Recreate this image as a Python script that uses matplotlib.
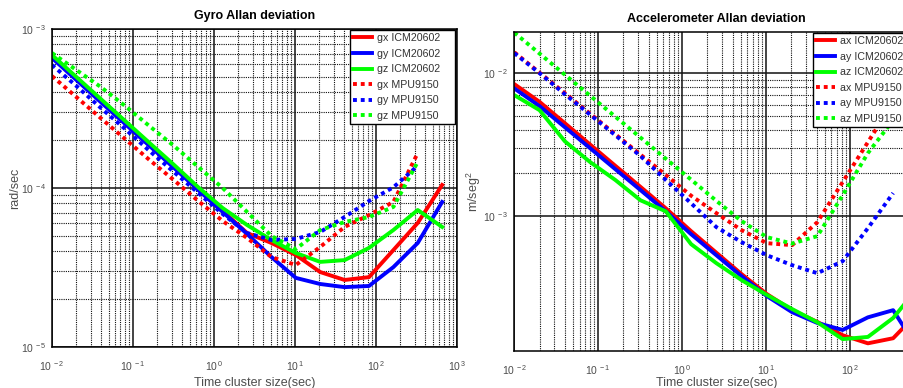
import math
import matplotlib.pyplot as plt
from matplotlib.ticker import FixedLocator, NullFormatter, FuncFormatter

plt.rcParams['font.family'] = ['Liberation Sans', 'DejaVu Sans']
plt.rcParams['mathtext.default'] = 'regular'

# cluster sizes (sec), doubling from 0.01
tau = [0.01, 0.02, 0.04, 0.08, 0.16, 0.32, 0.64, 1.28, 2.56, 5.12,
       10.24, 20.48, 40.96, 81.92, 163.84, 327.68, 655.36]
tau_mpu = tau[:16]

# gyro allan deviation (rad/sec)
gx_icm = [6.67e-4, 4.85e-4, 3.52e-4, 2.56e-4, 1.86e-4, 1.355e-4, 9.86e-5, 7.17e-5, 5.21e-5,
          4.51e-5, 3.79e-5, 2.96e-5, 2.64e-5, 2.75e-5, 4.07e-5, 6.03e-5, 1.045e-4]
gy_icm = [6.57e-4, 4.78e-4, 3.47e-4, 2.53e-4, 1.84e-4, 1.34e-4, 9.71e-5, 7.07e-5, 5.14e-5,
          3.68e-5, 2.72e-5, 2.49e-5, 2.38e-5, 2.42e-5, 3.18e-5, 4.51e-5, 8.17e-5]
gz_icm = [6.86e-4, 4.99e-4, 3.63e-4, 2.64e-4, 1.92e-4, 1.40e-4, 1.01e-4, 7.48e-5, 5.85e-5,
          4.71e-5, 3.90e-5, 3.43e-5, 3.52e-5, 4.20e-5, 5.44e-5, 7.27e-5, 5.69e-5]
gx_mpu = [5.06e-4, 3.73e-4, 2.75e-4, 2.03e-4, 1.50e-4, 1.12e-4, 8.28e-5, 6.20e-5,
          4.85e-5, 3.68e-5, 3.28e-5, 4.26e-5, 5.69e-5, 6.76e-5, 8.17e-5, 1.66e-4]
gy_mpu = [5.94e-4, 4.38e-4, 3.19e-4, 2.35e-4, 1.71e-4, 1.26e-4, 9.30e-5, 6.86e-5,
          5.21e-5, 4.71e-5, 4.78e-5, 5.29e-5, 6.57e-5, 8.28e-5, 1.01e-4, 1.38e-4]
gz_mpu = [7.06e-4, 5.52e-4, 4.32e-4, 3.28e-4, 2.45e-4, 1.84e-4, 1.355e-4, 1.00e-4,
          7.07e-5, 4.99e-5, 4.13e-5, 5.44e-5, 6.11e-5, 6.57e-5, 7.60e-5, 1.46e-4]

# accelerometer allan deviation (m/seg^2)
ax_icm = [8.38e-3, 6.30e-3, 4.47e-3, 3.17e-3, 2.25e-3, 1.60e-3, 1.134e-3, 7.85e-4, 5.55e-4,
          3.93e-4, 2.85e-4, 2.20e-4, 1.82e-4, 1.47e-4, 1.29e-4, 1.40e-4, 2.13e-4]
ay_icm = [7.82e-3, 5.88e-3, 4.19e-3, 2.99e-3, 2.13e-3, 1.52e-3, 1.08e-3, 7.48e-4, 5.33e-4,
          3.80e-4, 2.76e-4, 2.13e-4, 1.79e-4, 1.60e-4, 1.96e-4, 2.20e-4, 1.16e-4]
az_icm = [7.02e-3, 5.51e-3, 3.34e-3, 2.39e-3, 1.79e-3, 1.29e-3, 1.08e-3, 6.37e-4, 4.69e-4,
          3.57e-4, 2.81e-4, 2.24e-4, 1.81e-4, 1.38e-4, 1.43e-4, 1.94e-4, 3.19e-4]
ax_mpu = [1.40e-2, 1.008e-2, 7.25e-3, 5.21e-3, 3.74e-3, 2.69e-3, 1.94e-3, 1.39e-3,
          1.05e-3, 7.98e-4, 6.47e-4, 6.27e-4, 9.08e-4, 1.73e-3, 3.29e-3, 6.27e-3]
ay_mpu = [1.38e-2, 1.00e-2, 7.13e-3, 5.13e-3, 3.68e-3, 2.63e-3, 1.79e-3, 1.23e-3,
          8.38e-4, 6.58e-4, 5.33e-4, 4.54e-4, 3.99e-4, 4.84e-4, 8.24e-4, 1.45e-3]
az_mpu = [1.92e-2, 1.37e-2, 9.76e-3, 6.96e-3, 4.96e-3, 3.54e-3, 2.52e-3, 1.80e-3,
          1.28e-3, 9.23e-4, 7.13e-4, 6.43e-4, 7.25e-4, 1.40e-3, 2.76e-3, 4.69e-3]

gyro_labels = ['gx ICM20602', 'gy ICM20602', 'gz ICM20602', 'gx MPU9150', 'gy MPU9150', 'gz MPU9150']
acc_labels = ['ax ICM20602', 'ay ICM20602', 'az ICM20602', 'ax MPU9150', 'ay MPU9150', 'az MPU9150']

colors = ['#ff0000', '#0000ff', '#00ff00']
dots = (0, (1, 1))
grey = '#4d4d4d'

fig = plt.figure(figsize=(9.04, 3.88), dpi=100)
W, H = 904.0, 388.0

# matlab-ish "10 ^-2" tick labels
pow10 = FuncFormatter(lambda v, p: r'$10^{\,%d}$' % round(math.log10(v)))


def style_axes(ax):
    ax.set_xscale('log')
    ax.set_yscale('log')
    ax.grid(which='major', color='#111111', lw=1.1, ls='-')
    ax.grid(which='minor', color='#111111', lw=0.8, ls=dots)
    ax.set_axisbelow(True)
    ax.tick_params(which='both', direction='in', length=0, colors=grey, labelsize=7.5)
    ax.tick_params(axis='x', pad=9)
    ax.tick_params(axis='y', pad=4)
    ax.xaxis.set_major_formatter(pow10)
    ax.yaxis.set_major_formatter(pow10)
    ax.xaxis.set_minor_formatter(NullFormatter())
    ax.yaxis.set_minor_formatter(NullFormatter())
    for s in ax.spines.values():
        s.set_color('black')
        s.set_linewidth(1.1)


leg_kw = dict(borderaxespad=0, fontsize=7.7, frameon=True, fancybox=False, framealpha=1,
              edgecolor='black', labelspacing=0.52, handlelength=1.8, handletextpad=0.45,
              borderpad=0.3, labelcolor='#333333')

# ---- gyro ----
ax1 = fig.add_axes([52 / W, 1 - 347 / H, 405 / W, 318 / H])
style_axes(ax1)
for vals, c, lab in zip([gx_icm, gy_icm, gz_icm], colors, gyro_labels[:3]):
    ax1.plot(tau, vals, color=c, lw=2.8, label=lab)
for vals, c, lab in zip([gx_mpu, gy_mpu, gz_mpu], colors, gyro_labels[3:]):
    ax1.plot(tau_mpu, vals, color=c, lw=2.8, ls=dots, label=lab)
ax1.set_xlim(1e-2, 1e3)
ax1.set_ylim(1e-5, 1e-3)
ax1.xaxis.set_major_locator(FixedLocator([1e-2, 1e-1, 1e0, 1e1, 1e2, 1e3]))
ax1.set_xlabel('Time cluster size(sec)', fontsize=9, color=grey)
ax1.xaxis.set_label_coords(0.5, -0.094)
ax1.set_ylabel('rad/sec', fontsize=9, color=grey)
ax1.yaxis.set_label_coords(-0.076, 0.5)
ax1.set_title('Gyro Allan deviation', fontsize=9, fontweight='bold', pad=7)
ax1.legend(loc='upper left', bbox_to_anchor=(350 / W, (H - 124) / H, 105 / W, 94 / H),
           bbox_transform=fig.transFigure, mode='expand', **leg_kw)

# ---- accelerometer (axes runs past the right edge of the image) ----
ax2 = fig.add_axes([514.3 / W, 1 - 351 / H, 419.5 / W, 319 / H])
style_axes(ax2)
for vals, c, lab in zip([ax_icm, ay_icm, az_icm], colors, acc_labels[:3]):
    ax2.plot(tau, vals, color=c, lw=2.8, label=lab)
for vals, c, lab in zip([ax_mpu, ay_mpu, az_mpu], colors, acc_labels[3:]):
    ax2.plot(tau_mpu, vals, color=c, lw=2.8, ls=dots, label=lab)
ax2.set_xlim(1e-2, 1e3)
ax2.set_ylim(1.14e-4, 1.94e-2)
ax2.xaxis.set_major_locator(FixedLocator([1e-2, 1e-1, 1e0, 1e1, 1e2]))
ax2.xaxis.set_minor_locator(FixedLocator([m * 10.0 ** e for e in range(-2, 2) for m in range(2, 10)]))
ax2.yaxis.set_major_locator(FixedLocator([1e-3, 1e-2]))
ax2.yaxis.set_minor_locator(FixedLocator([m * 1e-3 for m in range(2, 10)]))
ax2.set_xlabel('Time cluster size(sec)', fontsize=9, color=grey)
ax2.xaxis.set_label_coords(0.4825, -0.082)
ax2.set_ylabel('m/seg$^2$', fontsize=9, color=grey)
ax2.yaxis.set_label_coords(-0.074, 0.5)
ax2.set_title('Accelerometer Allan deviation', fontsize=9, fontweight='bold', pad=7, x=0.4825)
ax2.legend(loc='upper left', bbox_to_anchor=(812.7 / W, 1 - 33 / H), bbox_transform=fig.transFigure,
           **leg_kw)

fig.savefig('out.png', dpi=100)
